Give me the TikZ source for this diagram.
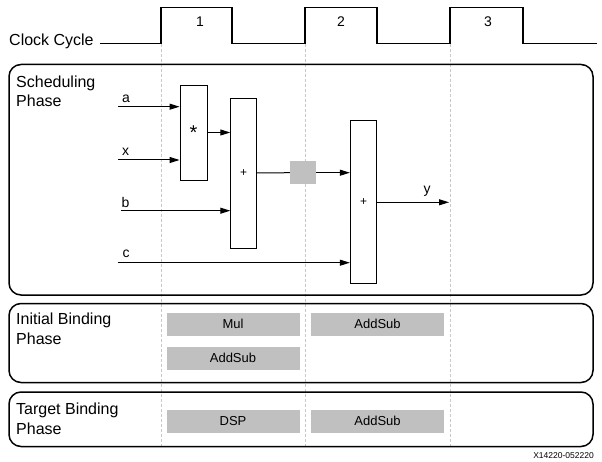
\documentclass[tikz,border=0pt]{standalone}
\usepackage{fontspec}
\setmainfont{Liberation Sans}
\usetikzlibrary{arrows.meta}
\definecolor{boxgray}{RGB}{192,192,192}
\definecolor{dashgray}{RGB}{200,200,200}
\tikzset{
  phasebox/.style={draw=black, line width=1.5pt, rounded corners=12pt},
  phaselabel/.style={anchor=base west, align=left, font=\fontsize{16}{19.5}\selectfont, inner sep=0pt},
  opbox/.style={draw=black, line width=0.9pt, fill=white, inner sep=0pt, font=\fontsize{12}{12}\selectfont},
  resbox/.style={fill=boxgray, inner sep=0pt, minimum width=133pt, minimum height=23pt, font=\fontsize{13}{13}\selectfont},
  wire/.style={line width=1pt, -{Triangle[length=10pt,width=6pt]}},
  plainwire/.style={line width=1pt},
  siglabel/.style={font=\fontsize{14}{14}\selectfont, inner sep=0pt},
  cyclesep/.style={dashgray, dashed, line width=0.8pt, dash pattern=on 3pt off 2pt},
}
\begin{document}
\begin{tikzpicture}[x=1pt,y=-1pt]
\useasboundingbox (0,0) rectangle (602,462);
% cycle separators
\foreach \xx in {161,305,450} \draw[cyclesep] (\xx,44) -- (\xx,446);
% clock
\node[anchor=base west, inner sep=0pt, font=\fontsize{16}{16}\selectfont] (clk) at (9,46) {Clock Cycle};
\draw[line width=1.4pt] (100,43.5) -- (161,43.5) -- (161,7.5) -- (232,7.5) -- (232,43.5) -- (305,43.5) -- (305,7.5) -- (377,7.5) -- (377,43.5) -- (450,43.5) -- (450,7.5) -- (523,7.5) -- (523,43.5) -- (597,43.5);
\node[siglabel] (n1) at (200,22) {1};
\node[siglabel] (n2) at (341,22) {2};
\node[siglabel] (n3) at (488,22) {3};
% phase boxes
\draw[phasebox] (9,64.5) rectangle (593,295);
\draw[phasebox] (9,303.5) rectangle (593,382.5);
\draw[phasebox] (9,392) rectangle (593,446.5);
\node[phaselabel] (sp) at (16,106.7) {Scheduling\\Phase};
\node[phaselabel] (ib) at (16,344) {Initial Binding\\Phase};
\node[phaselabel] (tb) at (16,434) {Target Binding\\Phase};
% scheduling graph
\node[opbox, minimum width=27pt, minimum height=95pt, font=\fontsize{20}{20}\selectfont] (mul) at (193.5,132.5) {\raisebox{-5pt}{*}};
\node[opbox, minimum width=26pt, minimum height=150pt] (add1) at (243.7,173) {+};
\node[opbox, minimum width=26.4pt, minimum height=163pt] (add2) at (363.5,201.7) {+};
\node[fill=boxgray, inner sep=0pt, minimum width=26pt, minimum height=23pt] (reg) at (303,172.7) {};
\coordinate (a0) at (118,106.7);
\coordinate (x0) at (118,160);
\coordinate (b0) at (121,210.7);
\coordinate (c0) at (118,262.7);
\coordinate (yend) at (449,202.3);
\draw[wire] (a0) -- (a0 -| mul.west);
\draw[wire] (x0) -- (x0 -| mul.west);
\draw[wire] (mul.east) -- (mul.east -| add1.west);
\draw[wire] (b0) -- (b0 -| add1.west);
\draw[plainwire] (add1.east) -- (reg.west);
\draw[wire] (reg.east) -- (reg.east -| add2.west);
\draw[wire] (c0) -- (c0 -| add2.west);
\draw[wire] (add2.east |- yend) -- (yend);
\node[siglabel] (la) at (126,99) {a};
\node[siglabel] (lx) at (125.5,152) {x};
\node[siglabel] (lb) at (125.5,202) {b};
\node[siglabel] (lc) at (126,254) {c};
\node[siglabel] (ly) at (427,191) {y};
% binding resources
\node[resbox] (mulr) at (233,324) {Mul};
\node[resbox] (addr1) at (377.5,324) {AddSub};
\node[resbox] (addr2) at (233,358) {AddSub};
\node[resbox] (dsp) at (233,421) {DSP};
\node[resbox] (addr3) at (377.5,421) {AddSub};
% footer
\node[anchor=east, inner sep=0pt, font=\fontsize{8.5}{8.5}\selectfont] (fig) at (594,455.5) {X14220-052220};
\end{tikzpicture}
\end{document}
